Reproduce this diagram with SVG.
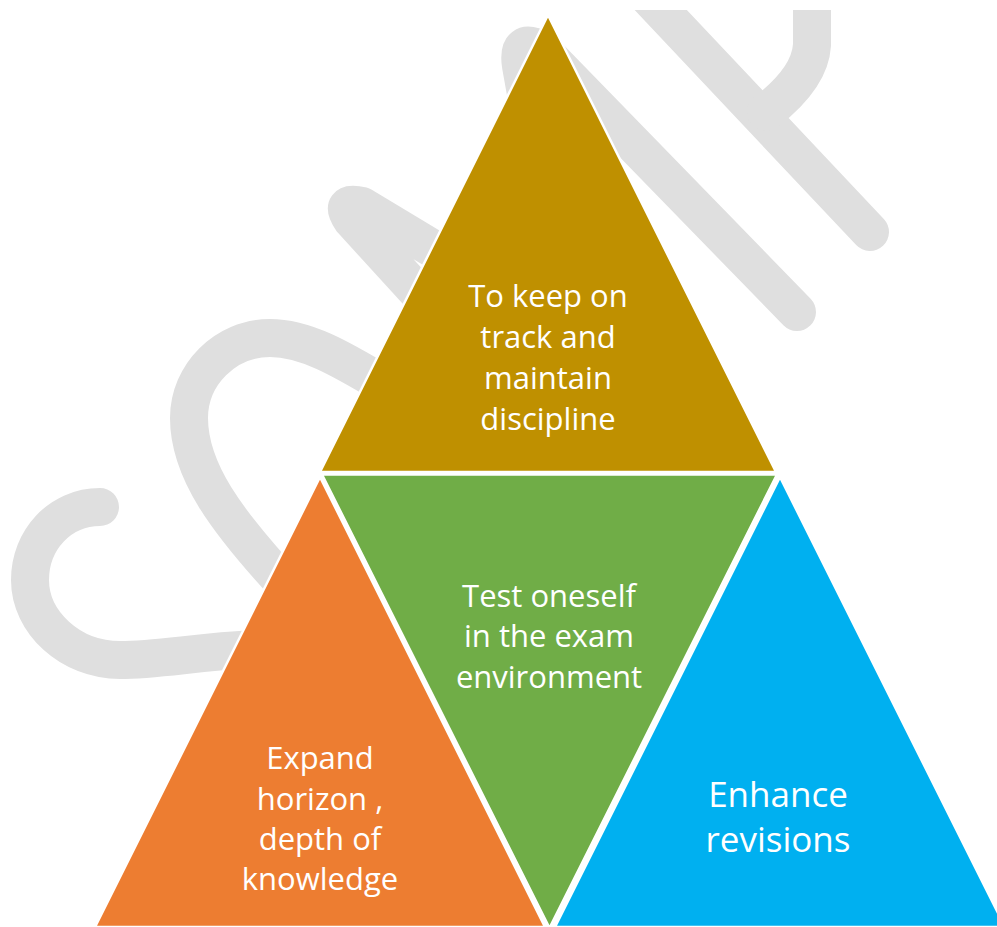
<svg xmlns="http://www.w3.org/2000/svg" width="997" height="927" viewBox="0 0 997 927">
<style>
.wm{fill:none;stroke:#dfdfdf;stroke-width:38;stroke-linecap:round;stroke-linejoin:round}
.tri{stroke:#ffffff;stroke-width:2.5;stroke-linejoin:miter}
.t{font-family:"Open Sans","Noto Sans",sans-serif;font-size:31px;fill:#ffffff;text-anchor:middle}
.tb{font-size:35px}
</style>
<defs>
<clipPath id="wmclip"><rect x="0" y="10" width="997" height="917"/></clipPath>
</defs>
<rect width="997" height="927" fill="#ffffff"/>
<g id="watermark" clip-path="url(#wmclip)">
<path class="wm" d="M100,507 C60,507 30,540 30,580 C30,622 70,660 120,660 C160,660 200,651 270,648"/>
<path class="wm" stroke-width="43" d="M385,385 C340,358 305,338 270,338 C225,338 189,375 189,418 C189,470 225,520 290,590"/>
<path class="wm" stroke-width="35" d="M425,300 L352,220 Q338,200 362,206 L455,262"/>
<path class="wm" stroke-width="36" d="M528,105 L521,66 Q516,36 542,50 L797,312"/>
<path class="wm" stroke-width="35" d="M640,-12 L870,232"/>
<path class="wm" stroke-width="40" d="M812,-10 L812,45 Q810,78 766,112"/>
</g>
<g id="node-top">
<polygon class="tri" fill="#BF9000" points="548,15 320,472 776,472"/>
<text class="t" x="548" y="307">To keep on</text>
<text class="t" x="548" y="348">track and</text>
<text class="t" x="548" y="389">maintain</text>
<text class="t" x="548" y="430">discipline</text>
</g>
<g id="node-middle">
<polygon class="tri" fill="#70AD47" points="322,474.5 777,474.5 549.5,928"/>
<text class="t" x="549" y="607">Test oneself</text>
<text class="t" x="549" y="647">in the exam</text>
<text class="t" x="549" y="688">environment</text>
</g>
<g id="node-left">
<polygon class="tri" fill="#ED7D31" points="320,477 95,927 545,927"/>
<text class="t" x="320" y="769">Expand</text>
<text class="t" x="320" y="810">horizon ,</text>
<text class="t" x="320" y="850">depth of</text>
<text class="t" x="320" y="890">knowledge</text>
</g>
<g id="node-right">
<polygon class="tri" fill="#00B0F0" points="780,477 555,927 1005,927"/>
<text class="t tb" x="778" y="807">Enhance</text>
<text class="t tb" x="778" y="852">revisions</text>
</g>
<g id="connectors"/>
</svg>
